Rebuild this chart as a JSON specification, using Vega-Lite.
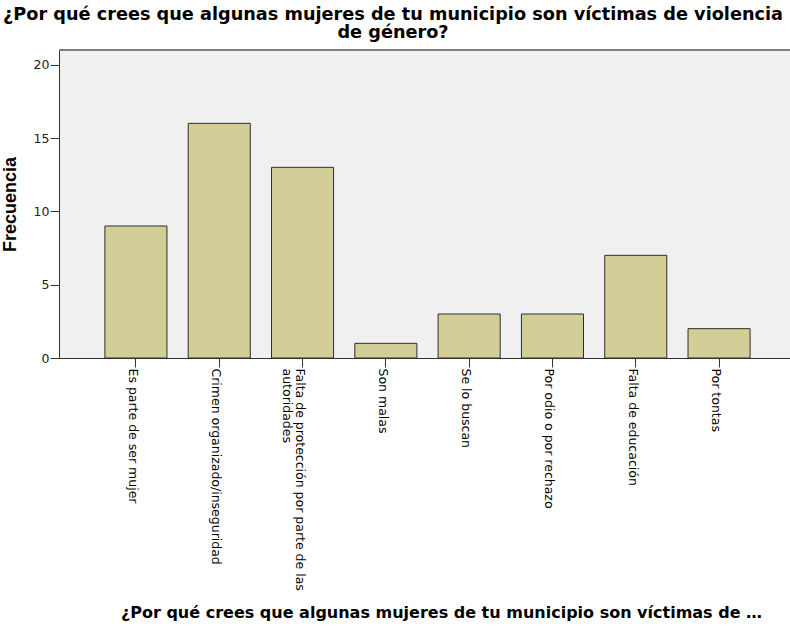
{
  "$schema": "https://vega.github.io/schema/vega-lite/v6.json",
  "width": 731,
  "height": 308,
  "autosize": {"type": "none"},
  "padding": {"left": 59, "top": 50, "right": 0, "bottom": 270},
  "background": "white",
  "config": {
    "view": {"stroke": null, "fill": "#F0F0F0"},
    "font": "DejaVu Sans"
  },
  "title": {
    "text": ["¿Por qué crees que algunas mujeres de tu municipio son víctimas de violencia", "de género?"],
    "fontSize": 17.7,
    "fontWeight": "bold",
    "font": "DejaVu Sans",
    "color": "#000000",
    "lineHeight": 18.5,
    "offset": 7,
    "dx": -31.5,
    "anchor": "middle"
  },
  "data": {
    "values": [
      {"categoria": "Es parte de ser mujer", "frecuencia": 9},
      {"categoria": "Crimen organizado/inseguridad", "frecuencia": 16},
      {"categoria": "Falta de protección por parte de las autoridades", "frecuencia": 13},
      {"categoria": "Son malas", "frecuencia": 1},
      {"categoria": "Se lo buscan", "frecuencia": 3},
      {"categoria": "Por odio o por rechazo", "frecuencia": 3},
      {"categoria": "Falta de educación", "frecuencia": 7},
      {"categoria": "Por tontas", "frecuencia": 2}
    ]
  },
  "layer": [
    {
      "mark": {"type": "bar", "fill": "#D3CE97", "stroke": "#2E2E2E", "strokeWidth": 1},
      "encoding": {
        "x": {
          "field": "categoria",
          "type": "nominal",
          "sort": null,
          "scale": {"paddingInner": 0.255, "paddingOuter": 0.515, "align": 0.535},
          "axis": {
            "labelAngle": 90,
            "labelFont": "DejaVu Sans",
            "labelFontSize": 12.5,
            "labelColor": "#000000",
            "labelLimit": 400,
            "labelOverlap": false,
            "labelPadding": 1,
            "labelOffset": -3,
            "labelLineHeight": 13,
            "tickSize": 9,
            "tickColor": "#333333",
            "domainColor": "#333333",
            "labelExpr": "datum.value == 'Falta de protección por parte de las autoridades' ? ['Falta de protección por parte de las', 'autoridades'] : datum.value",
            "title": "¿Por qué crees que algunas mujeres de tu municipio son víctimas de …",
            "titleFont": "DejaVu Sans",
            "titleFontSize": 16,
            "titleFontWeight": "bold",
            "titleColor": "#000000",
            "titleX": 382,
            "titleY": 259,
            "titleBaseline": "alphabetic"
          }
        },
        "y": {
          "field": "frecuencia",
          "type": "quantitative",
          "scale": {"domain": [0, 21], "nice": false},
          "axis": {
            "values": [0, 5, 10, 15, 20],
            "grid": false,
            "labelFont": "DejaVu Sans",
            "labelFontSize": 12.5,
            "labelColor": "#222222",
            "labelPadding": 1,
            "tickSize": 9,
            "tickColor": "#333333",
            "domainColor": "#333333",
            "title": "Frecuencia",
            "titleFont": "Liberation Sans",
            "titleFontSize": 18,
            "titleFontWeight": "bold",
            "titleColor": "#000000",
            "titlePadding": 14
          }
        }
      }
    },
    {
      "mark": {"type": "rule", "color": "#808080", "strokeWidth": 2},
      "encoding": {"y": {"datum": 21}}
    }
  ]
}
